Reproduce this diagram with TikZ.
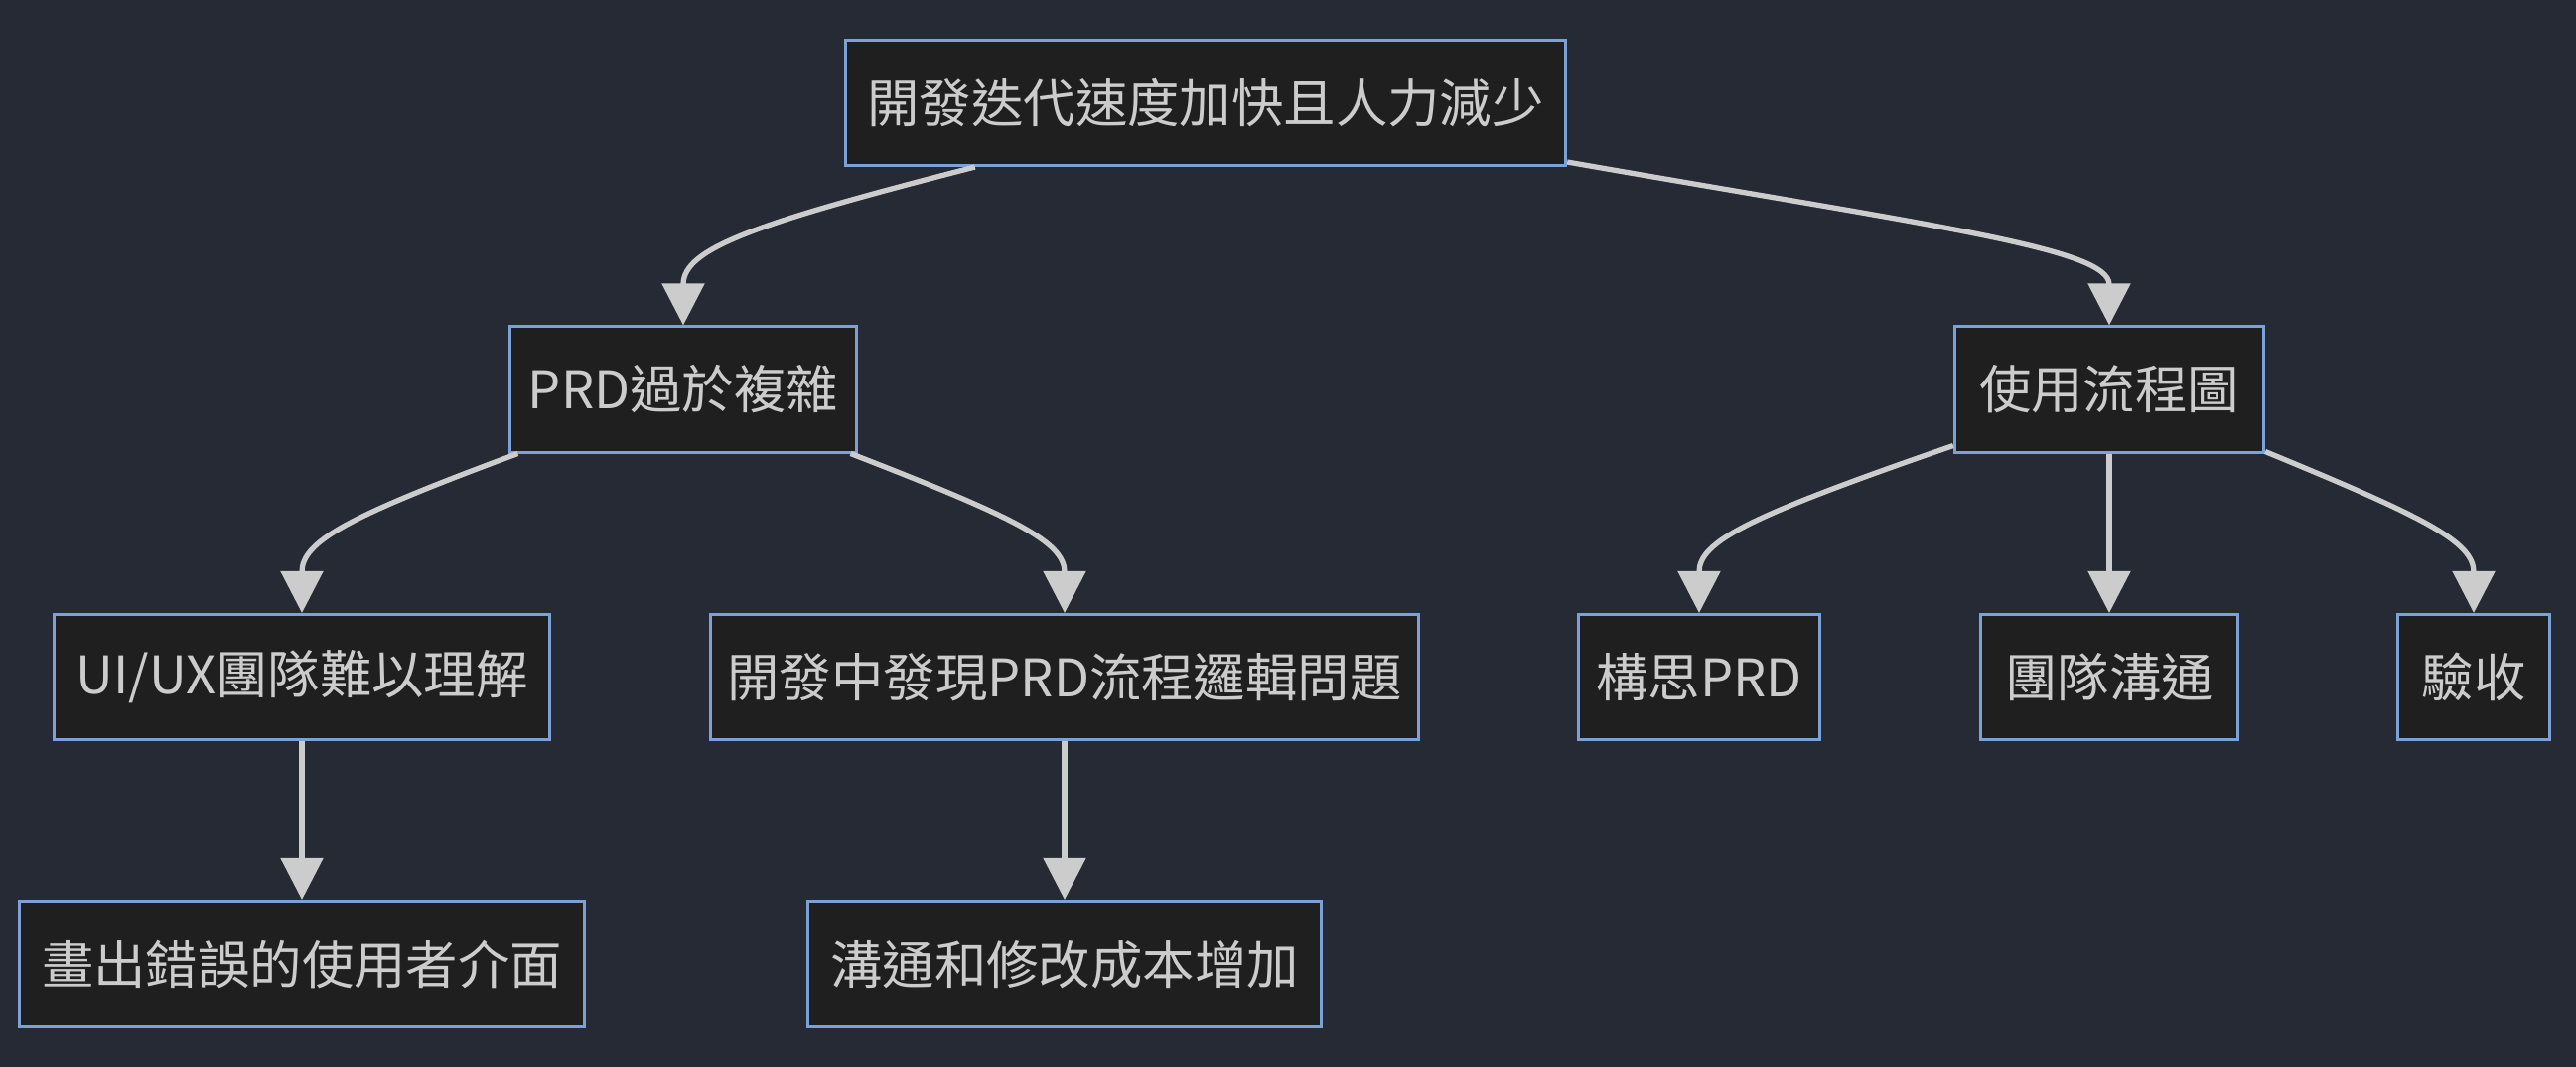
\documentclass[tikz,border=0pt]{standalone}
\usepackage{fontspec}
\setmainfont{Noto Sans CJK TC}
\usetikzlibrary{arrows.meta}
\definecolor{bgc}{HTML}{262A35}
\definecolor{nodefill}{HTML}{1F1F1F}
\definecolor{nodeborder}{HTML}{7BA1D6}
\definecolor{txt}{HTML}{CCCCCC}
\begin{document}
\begin{tikzpicture}[x=0.01cm,y=-0.01cm,
  box/.style={draw=nodeborder, fill=nodefill, line width=0.85pt, text=txt, font=\fontsize{14.9}{18}\selectfont, minimum height=1.26cm, inner sep=0pt, anchor=center},
  conn/.style={draw=txt, line width=1.5pt, -{Triangle[length=12pt,width=12pt]}}]
\fill[bgc] (0,0) rectangle (2594,1074);
\useasboundingbox (0,0) rectangle (2594,1074);
\node[box, minimum width=7.25cm] (top) at (1214,103.5) {開發迭代速度加快且人力減少};
\node[box, minimum width=3.48cm] (prd) at (688,392) {PRD過於複雜};
\node[box, minimum width=3.11cm] (use) at (2124,392) {使用流程圖};
\node[box, minimum width=4.99cm] (ui) at (304,681.5) {UI/UX團隊難以理解};
\node[box, minimum width=7.12cm] (dev) at (1072,681.5) {開發中發現PRD流程邏輯問題};
\node[box, minimum width=2.43cm] (idea) at (1711,681.5) {構思PRD};
\node[box, minimum width=2.58cm] (team) at (2124,681.5) {團隊溝通};
\node[box, minimum width=1.52cm] (acc) at (2491,681.5) {驗收};
\node[box, minimum width=5.69cm] (draw) at (304,970.5) {畫出錯誤的使用者介面};
\node[box, minimum width=5.16cm] (cost) at (1072,970.5) {溝通和修改成本增加};
\draw[conn] (top.south west) ++(132,0) .. controls (760,225) and (688,250) .. (prd.north);
\draw[conn] (top.south east) ++(0,-5) .. controls (1950,228) and (2124,250) .. (use.north);
\draw[conn] (prd.south west) ++(9,0) .. controls (350,520) and (304,545) .. (ui.north);
\draw[conn] (prd.south east) ++(-7,0) .. controls (1020,520) and (1072,545) .. (dev.north);
\draw[conn] (use.south west) ++(0,-8) .. controls (1760,520) and (1711,545) .. (idea.north);
\draw[conn] (use.south) -- (team.north);
\draw[conn] (use.south east) ++(0,-2) .. controls (2440,520) and (2491,545) .. (acc.north);
\draw[conn] (ui.south) -- (draw.north);
\draw[conn] (dev.south) -- (cost.north);
\end{tikzpicture}
\end{document}
